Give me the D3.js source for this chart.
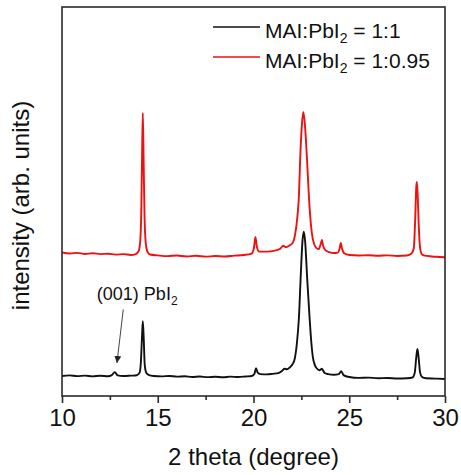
<!DOCTYPE html>
<html>
<head>
<meta charset="utf-8">
<script src="https://cdn.jsdelivr.net/npm/d3@7/dist/d3.min.js"></script>
<style>
  html, body { margin: 0; padding: 0; background: #fff; }
  svg { display: block; font-family: "Liberation Sans", Arial, sans-serif; }
</style>
</head>
<body>
<svg id="chart" width="461" height="475"></svg>
<script>
// XRD patterns, 2θ (degree) vs intensity (arb. units), stacked traces
const xTicks = [10, 15, 20, 25, 30];
const xMinorTicks = [12.5, 17.5, 22.5, 27.5];

// MAI:PbI2 = 1:1
const black_1_1 = [
  [10.0, 20.5], [10.4, 21.2], [10.8, 20.4], [11.2, 21.0], [11.6, 20.2], [12.0, 20.8],
  [12.4, 20.3], [12.6, 21.5], [12.76, 24.5], [12.9, 21.2], [13.2, 20.5], [13.6, 20.9],
  [13.9, 21.3], [14.05, 24], [14.12, 35], [14.18, 62], [14.22, 77], [14.27, 58],
  [14.32, 32], [14.4, 24], [14.55, 21.5], [14.8, 20.6], [15.2, 20.2], [15.6, 20.6],
  [16.0, 19.9], [16.4, 20.3], [16.8, 19.6], [17.2, 20.0], [17.6, 19.4], [18.0, 19.8],
  [18.4, 19.3], [18.8, 19.9], [19.2, 19.5], [19.6, 20.1], [19.9, 20.6], [20.05, 23],
  [20.13, 28.5], [20.22, 24], [20.35, 22.5], [20.7, 22.2], [21.0, 22.8], [21.3, 23.6],
  [21.5, 26], [21.62, 28], [21.75, 27.5], [21.9, 29.5], [22.05, 33], [22.15, 38],
  [22.27, 55], [22.37, 80], [22.47, 125], [22.56, 160], [22.63, 169], [22.7, 158],
  [22.8, 122], [22.93, 80], [23.02, 55], [23.1, 40], [23.2, 32], [23.3, 28.5],
  [23.45, 26.5], [23.57, 28], [23.7, 24], [23.9, 22.5], [24.2, 21.8], [24.45, 22.5],
  [24.58, 25.5], [24.7, 21.5], [25.0, 19.5], [25.5, 18.6], [26.0, 18.9], [26.5, 18.3],
  [27.0, 18.5], [27.5, 18.0], [28.0, 18.3], [28.3, 19.0], [28.42, 24], [28.5, 40],
  [28.56, 48.5], [28.62, 40], [28.7, 24], [28.8, 19.5], [29.0, 18.2], [29.5, 17.9],
  [30.0, 17.5]
];

// MAI:PbI2 = 1:0.95 (plotted with vertical offset already applied)
const red_1_095 = [
  [10.0, 147.5], [10.4, 146.6], [10.8, 147.2], [11.2, 146.0], [11.6, 146.8], [12.0, 145.9],
  [12.4, 146.3], [12.8, 145.4], [13.2, 145.9], [13.6, 145.0], [13.85, 146.0], [14.0, 149],
  [14.08, 158], [14.14, 190], [14.18, 245], [14.22, 291], [14.26, 245], [14.31, 185],
  [14.37, 158], [14.47, 148], [14.6, 145.5], [15.0, 144.6], [15.5, 143.8], [16.0, 144.5],
  [16.5, 143.5], [17.0, 144.2], [17.5, 143.3], [18.0, 143.9], [18.5, 143.4], [19.0, 144.3],
  [19.5, 145.0], [19.9, 146.5], [20.02, 152], [20.1, 163.5], [20.18, 153], [20.3, 148.5],
  [20.7, 148.5], [21.1, 149.5], [21.4, 151.5], [21.55, 154.5], [21.7, 153], [21.9, 155],
  [22.06, 158], [22.18, 167], [22.3, 186], [22.37, 205], [22.44, 245], [22.52, 277],
  [22.6, 292], [22.68, 280], [22.79, 245], [22.9, 203], [23.0, 176], [23.1, 161],
  [23.25, 153], [23.4, 151], [23.52, 157], [23.57, 160.5], [23.63, 155], [23.75, 150],
  [23.95, 148], [24.2, 147], [24.4, 147.5], [24.5, 152], [24.56, 157.5], [24.62, 152],
  [24.75, 146.5], [25.0, 145.0], [25.5, 144.5], [26.0, 144.8], [26.5, 144.2], [27.0, 144.6],
  [27.5, 144.0], [28.0, 144.5], [28.25, 146.5], [28.37, 152], [28.44, 180], [28.5, 215],
  [28.53, 220], [28.57, 208], [28.63, 175], [28.7, 152], [28.8, 145.5], [28.95, 144.3],
  [29.3, 143.5], [29.7, 143.0], [30.0, 142.6]
];

const seriesNames = ["MAI:PbI2 = 1:1", "MAI:PbI2 = 1:0.95"];
const seriesColors = ["#111111", "#ee1111"];

// (001) PbI2 reflection marker: label anchor, arrow tail and tip in data units
const annotLabel = { x: 11.82, y: 99 };
const annotArrow = { x1: 13.2, y1: 89, x2: 12.87, y2: 34 };

const margin = { left: 62, right: 16, top: 7, bottom: 79 };
const W = 461, H = 475;
const svg = d3.select("#chart");

const x = d3.scaleLinear().domain([10, 30]).range([margin.left, W - margin.right]);
const y = d3.scaleLinear().domain([0, 400]).range([H - margin.bottom, H - margin.bottom - 400 * 0.9725]);

const plotTop = margin.top, plotBottom = H - margin.bottom;

// clip traces to the frame
svg.append("clipPath").attr("id", "plotclip")
  .append("rect")
  .attr("x", x(10)).attr("y", plotTop)
  .attr("width", x(30) - x(10)).attr("height", plotBottom - plotTop);

const line = d3.line().x(d => x(d[0])).y(d => y(d[1])).curve(d3.curveMonotoneX);

const traces = svg.append("g").attr("clip-path", "url(#plotclip)");
traces.append("path").datum(red_1_095)
  .attr("d", line).attr("fill", "none")
  .attr("stroke", seriesColors[1]).attr("stroke-width", 1.9).attr("stroke-linejoin", "round");
traces.append("path").datum(black_1_1)
  .attr("d", line).attr("fill", "none")
  .attr("stroke", seriesColors[0]).attr("stroke-width", 1.9).attr("stroke-linejoin", "round");

// frame
svg.append("rect")
  .attr("x", x(10)).attr("y", plotTop)
  .attr("width", x(30) - x(10)).attr("height", plotBottom - plotTop)
  .attr("fill", "none").attr("stroke", "#2a2a2a").attr("stroke-width", 1.6);

// bottom axis: major ticks with labels, minor ticks without
const xAxis = d3.axisBottom(x).tickValues(xTicks).tickSize(7).tickPadding(6).tickFormat(d3.format("d"));
const gx = svg.append("g").attr("transform", `translate(0,${plotBottom})`).call(xAxis);
gx.select(".domain").remove();
gx.selectAll(".tick line").attr("stroke", "#2a2a2a").attr("stroke-width", 1.6);
gx.selectAll(".tick text").attr("font-size", 24).attr("fill", "#111")
  .attr("font-family", "Liberation Sans, Arial, sans-serif");

const gxm = svg.append("g").attr("transform", `translate(0,${plotBottom})`)
  .call(d3.axisBottom(x).tickValues(xMinorTicks).tickSize(4).tickFormat(""));
gxm.select(".domain").remove();
gxm.selectAll(".tick line").attr("stroke", "#2a2a2a").attr("stroke-width", 1.6);

// axis titles
svg.append("text")
  .attr("x", (x(10) + x(30)) / 2).attr("y", 465)
  .attr("text-anchor", "middle").attr("font-size", 24).attr("fill", "#111")
  .text("2 theta (degree)");

svg.append("text")
  .attr("transform", `translate(29,${(plotTop + plotBottom) / 2 + 4}) rotate(-90)`)
  .attr("text-anchor", "middle").attr("font-size", 24).attr("fill", "#111")
  .text("intensity (arb. units)");

// legend
const legend = svg.append("g");
const legendRows = [
  { name: seriesNames[0], color: seriesColors[0], lineY: 27, textY: 38 },
  { name: seriesNames[1], color: seriesColors[1], lineY: 57, textY: 68 }
];
legendRows.forEach(r => {
  legend.append("line")
    .attr("x1", 213).attr("x2", 260).attr("y1", r.lineY).attr("y2", r.lineY)
    .attr("stroke", r.color).attr("stroke-width", 1.7);
  const parts = r.name.split("PbI2");
  const t = legend.append("text").attr("x", 265).attr("y", r.textY)
    .attr("font-size", 21).attr("fill", "#111");
  t.append("tspan").text(parts[0] + "PbI");
  t.append("tspan").attr("font-size", 14).attr("dy", 5).text("2");
  t.append("tspan").attr("dy", -5).text(parts[1]);
});

// annotation for the PbI2 (001) reflection
svg.append("defs").append("marker")
  .attr("id", "arrowhead").attr("viewBox", "0 0 10 10")
  .attr("refX", 10).attr("refY", 5)
  .attr("markerWidth", 7).attr("markerHeight", 10)
  .attr("markerUnits", "userSpaceOnUse")
  .attr("orient", "auto")
  .append("path").attr("d", "M0,0 L10,5 L0,10 Z").attr("fill", "#222");

svg.append("line")
  .attr("x1", x(annotArrow.x1)).attr("y1", y(annotArrow.y1))
  .attr("x2", x(annotArrow.x2)).attr("y2", y(annotArrow.y2))
  .attr("stroke", "#444").attr("stroke-width", 1)
  .attr("marker-end", "url(#arrowhead)");

const at = svg.append("text")
  .attr("x", x(annotLabel.x)).attr("y", y(annotLabel.y))
  .attr("font-size", 18).attr("fill", "#111");
at.append("tspan").text("(001) PbI");
at.append("tspan").attr("font-size", 12).attr("dy", 5).text("2");
</script>
</body>
</html>
